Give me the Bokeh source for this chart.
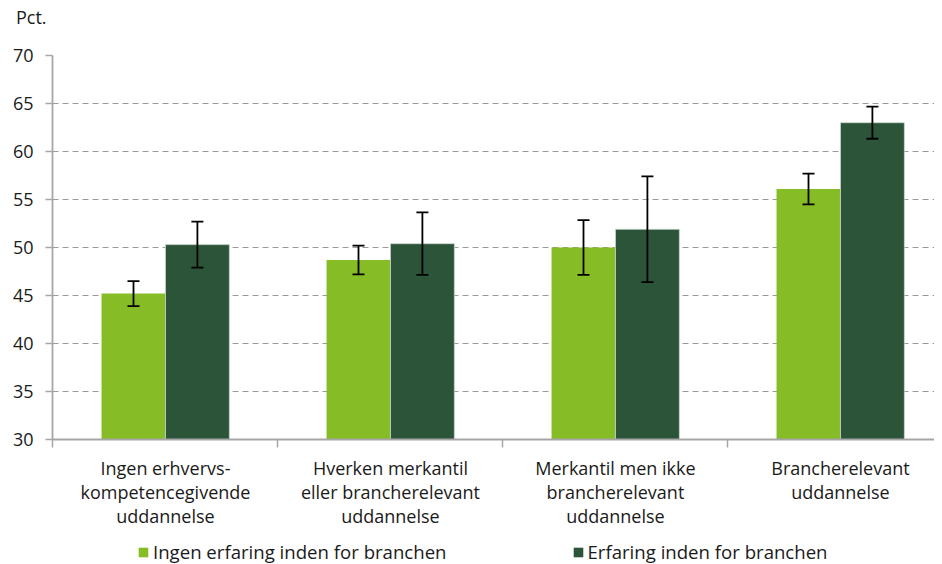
from bokeh.plotting import figure
from bokeh.layouts import column
from bokeh.models import (ColumnDataSource, Whisker, TeeHead, FixedTicker, Legend,
                          LegendItem, Range1d, Div)
from bokeh.embed import file_html
from bokeh.resources import INLINE

categories = [
    "Ingen erhvervs-\nkompetencegivende\nuddannelse",
    "Hverken merkantil\neller brancherelevant\nuddannelse",
    "Merkantil men ikke\nbrancherelevant\nuddannelse",
    "Brancherelevant\nuddannelse",
]
series_names = ["Ingen erfaring inden for branchen", "Erfaring inden for branchen"]
no_exp = [45.2, 48.7, 50.0, 56.1]
no_exp_err = [1.3, 1.5, 2.85, 1.6]
exp = [50.3, 50.4, 51.9, 63.0]
exp_err = [2.4, 3.25, 5.5, 1.67]
y_ticks = [30, 35, 40, 45, 50, 55, 60, 65, 70]
y_unit = "Pct."

LIGHT = "#86bc25"
DARK = "#2b5438"
FONT = "Open Sans"
TXT = "#1a1a1a"
FS = "18px"

idx = list(range(len(categories)))
off = 0.142
bw = 0.284

src1 = ColumnDataSource(dict(
    x=[i - off for i in idx], top=no_exp,
    upper=[v + e for v, e in zip(no_exp, no_exp_err)],
    lower=[v - e for v, e in zip(no_exp, no_exp_err)]))
src2 = ColumnDataSource(dict(
    x=[i + off for i in idx], top=exp,
    upper=[v + e for v, e in zip(exp, exp_err)],
    lower=[v - e for v, e in zip(exp, exp_err)]))

unit_div = Div(text=y_unit, width=934, height=34, margin=0,
               styles={"font-family": FONT, "font-size": FS, "color": TXT,
                       "line-height": "34px", "padding-left": "16px"})

xr = Range1d(-0.502, 3.418)
p = figure(width=934, height=500, output_backend="svg", toolbar_location=None,
           x_range=xr, y_range=Range1d(30, 70),
           min_border_left=52, min_border_right=0, min_border_top=21,
           min_border_bottom=95)
p.outline_line_color = None
p.background_fill_color = "white"
p.border_fill_color = "white"

p.vbar(x="x", top="top", bottom=30, width=bw, source=src1,
       fill_color=LIGHT, line_color=None)
p.vbar(x="x", top="top", bottom=30, width=bw, source=src2,
       fill_color=DARK, line_color="#cfd8d2", line_width=0.8)

for s in (src1, src2):
    w = Whisker(source=s, base="x", upper="upper", lower="lower", level="overlay",
                line_color="black", line_width=1.8,
                upper_head=TeeHead(size=12, line_color="black", line_width=1.8),
                lower_head=TeeHead(size=12, line_color="black", line_width=1.8))
    p.add_layout(w)

# axes
p.xaxis.ticker = FixedTicker(ticks=idx, minor_ticks=[-0.5, 0.5, 1.5, 2.5, 3.5])
p.xaxis.major_label_overrides = {i: c for i, c in zip(idx, categories)}
p.xaxis.major_tick_line_color = None
p.xaxis.minor_tick_in = 0
p.xaxis.minor_tick_out = 8
p.xaxis.minor_tick_line_color = "#a6a6a6"
p.xaxis.minor_tick_line_width = 1.5
p.xaxis.axis_line_color = "#a6a6a6"
p.xaxis.axis_line_width = 1.8
p.xaxis.major_label_text_font = FONT
p.xaxis.major_label_text_font_size = FS
p.xaxis.major_label_text_color = TXT
p.xaxis.major_label_text_line_height = 1.0
p.xaxis.major_label_standoff = 8

p.yaxis.ticker = FixedTicker(ticks=y_ticks, minor_ticks=[])
p.yaxis.axis_line_color = "#a6a6a6"
p.yaxis.axis_line_width = 1.8
p.yaxis.major_tick_line_color = "#a6a6a6"
p.yaxis.major_tick_line_width = 1.5
p.yaxis.major_tick_in = 0
p.yaxis.major_tick_out = 7
p.yaxis.major_label_text_font = FONT
p.yaxis.major_label_text_font_size = FS
p.yaxis.major_label_text_color = TXT
p.yaxis.major_label_standoff = 12

p.xgrid.grid_line_color = None
p.ygrid.grid_line_color = "#9a9a9a"
p.ygrid.grid_line_dash = "6 4"
p.ygrid.grid_line_width = 1

# legend strip below the chart: zero-height bars out of view, only swatches show
lg = figure(width=934, height=30, output_backend="svg", toolbar_location=None,
            x_range=xr, y_range=Range1d(1000, 1001),
            min_border_left=0, min_border_right=0, min_border_top=0,
            min_border_bottom=0)
lg.axis.visible = False
lg.grid.grid_line_color = None
lg.outline_line_color = None
l1 = lg.vbar(x="x", top="top", bottom="top", width=bw, source=src1,
             fill_color=LIGHT, line_color=None)
l2 = lg.vbar(x="x", top="top", bottom="top", width=bw, source=src2,
             fill_color=DARK, line_color=None)
legend = Legend(items=[LegendItem(label=series_names[0], renderers=[l1]),
                       LegendItem(label=series_names[1], renderers=[l2])],
                orientation="horizontal", location=(85, 0),
                label_text_font=FONT, label_text_font_size="18.6px",
                label_text_color=TXT, glyph_width=12, glyph_height=12,
                label_standoff=4, spacing=125, padding=0, margin=0,
                border_line_color=None, background_fill_alpha=0)
lg.add_layout(legend, "center")

open("out.html", "w").write(file_html(column(unit_div, p, lg, spacing=0), INLINE))
